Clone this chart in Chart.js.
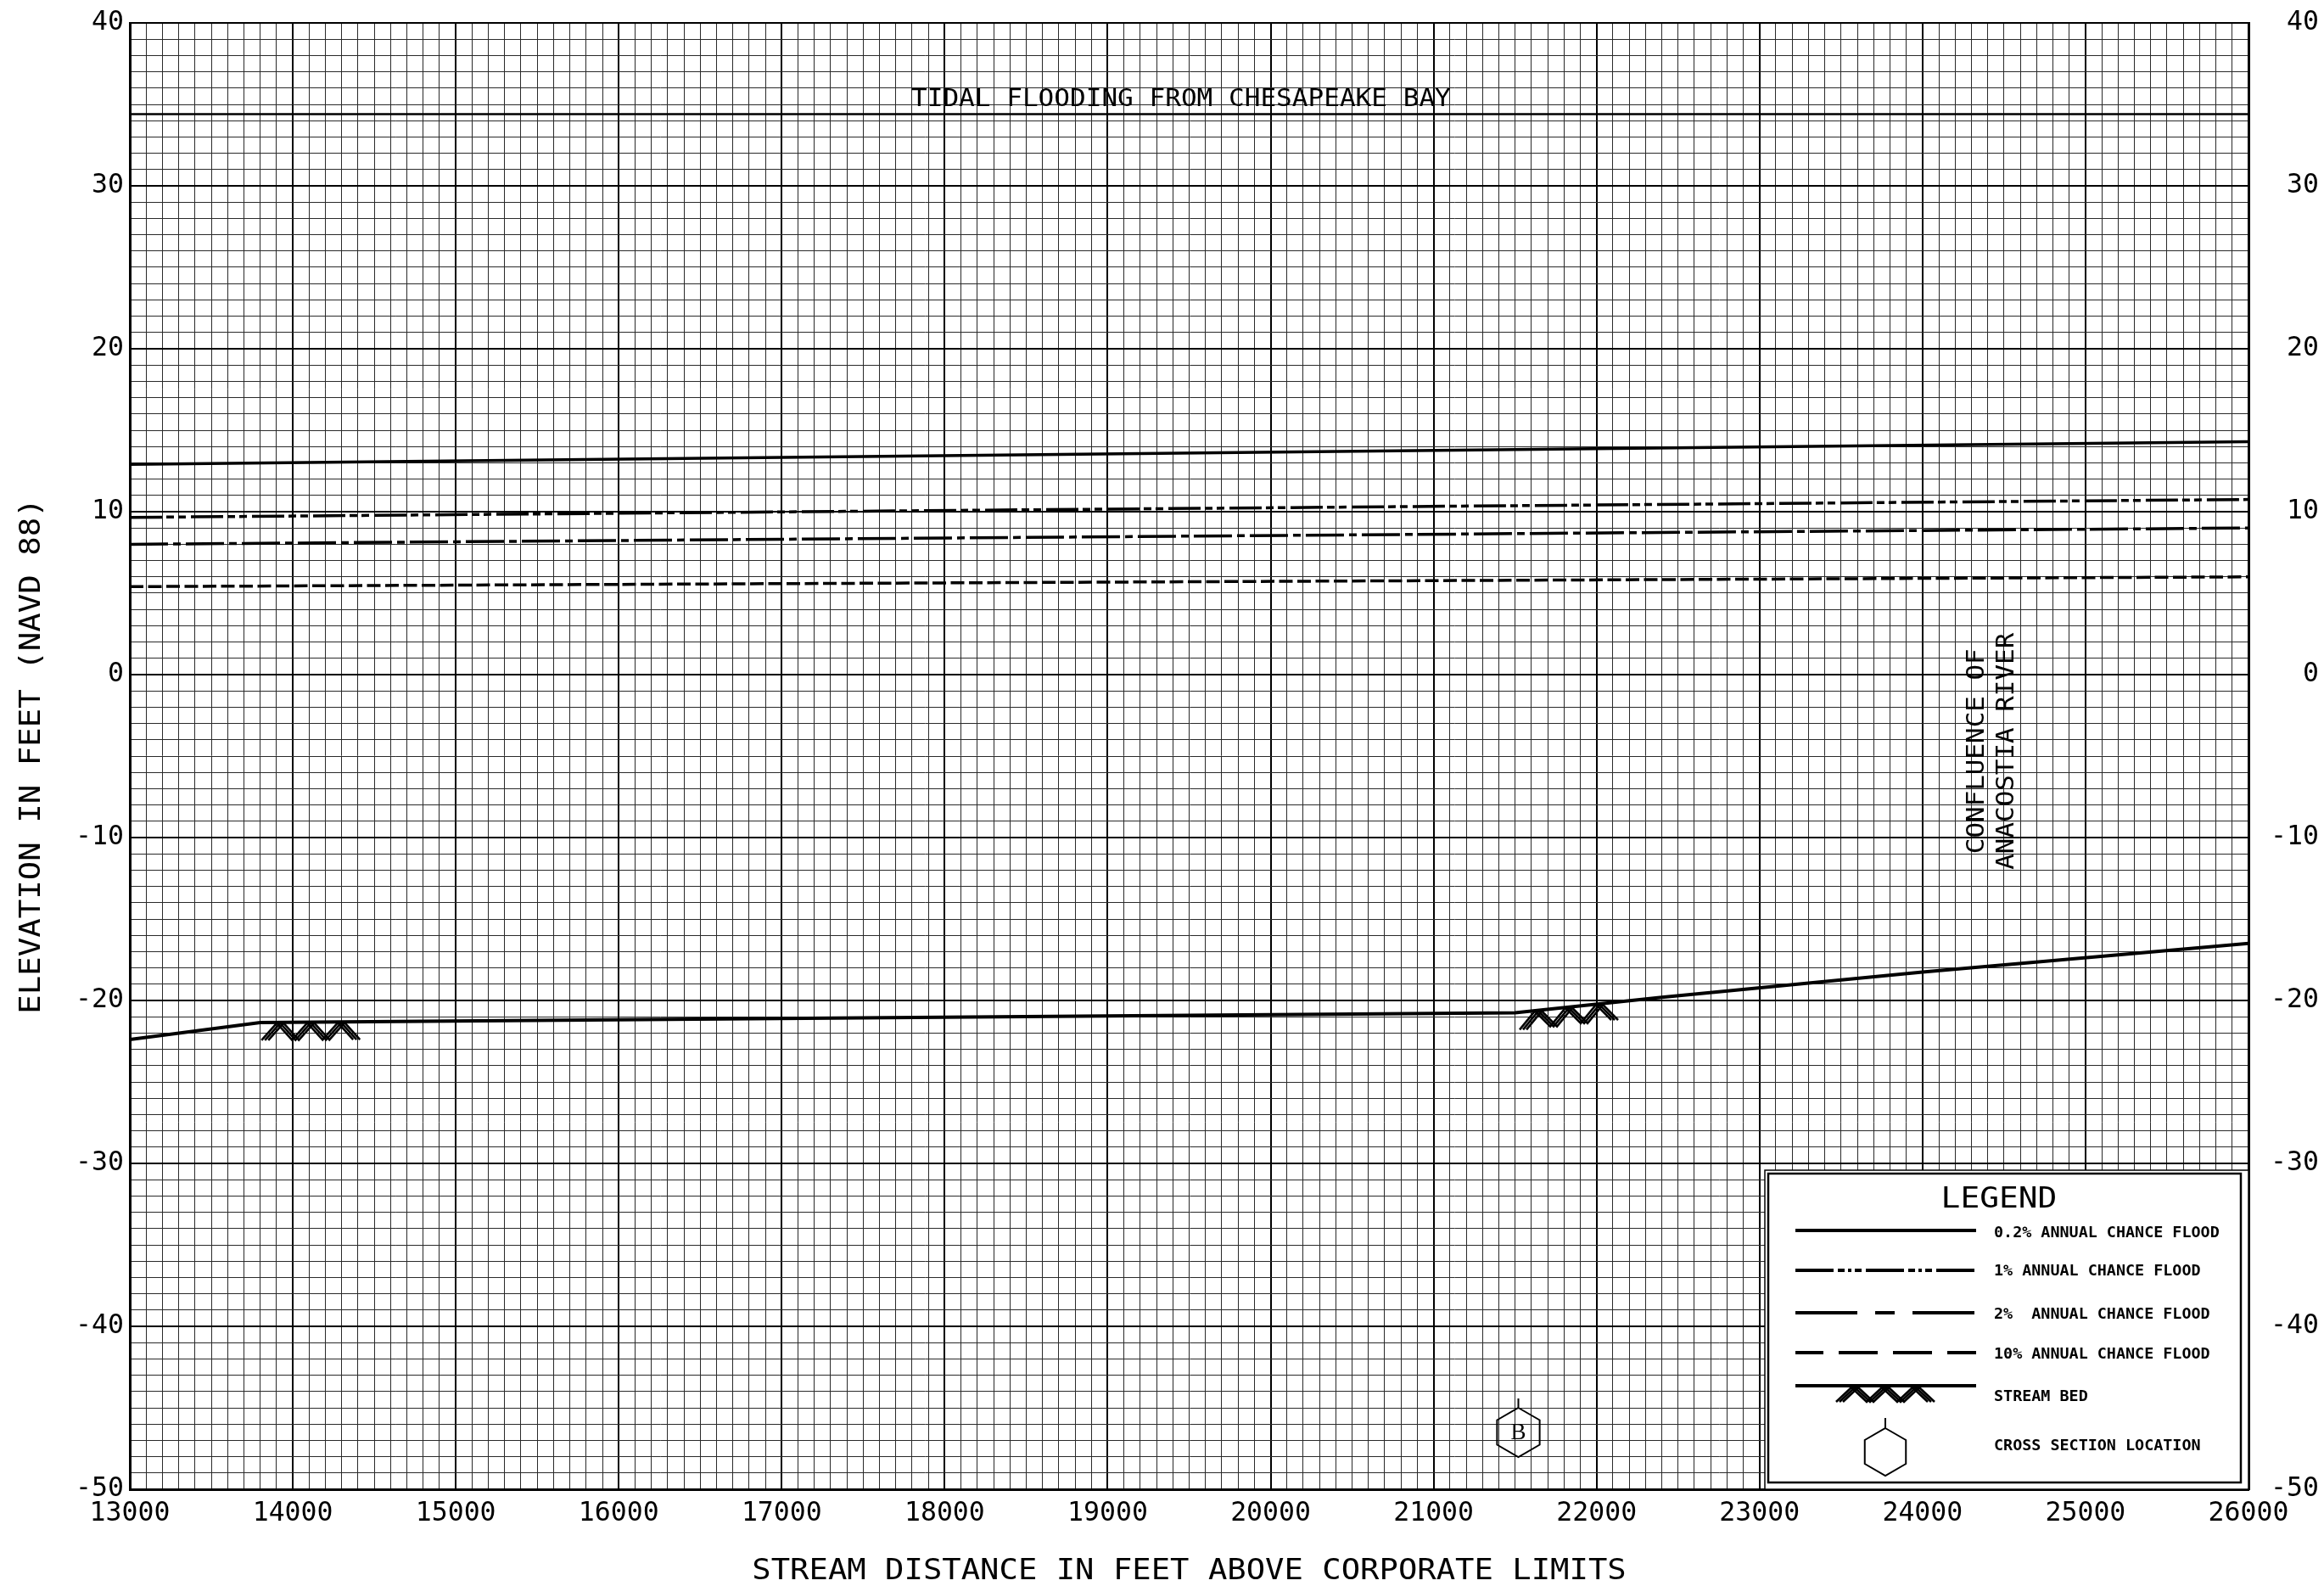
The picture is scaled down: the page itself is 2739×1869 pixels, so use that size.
<!DOCTYPE html>
<html>
  <head>
    <title>Flood Profile</title>
    <script src="https://cdn.jsdelivr.net/npm/chart.js"></script>
    <style>
      body {
        margin: 0;
        padding: 0;
        background-color: #fff;
        overflow: hidden;
      }
    </style>
  </head>
  <body>
    <canvas id="profile" width="2739" height="1869"></canvas>

    <script>
      // Water surface profiles (stream distance in feet, elevation in feet NAVD 88)
      const stations = [13000, 26000];
      const flood02 = [12.9, 14.3];
      const flood1 = [9.65, 10.75];
      const flood2 = [8.0, 9.0];
      const flood10 = [5.4, 6.0];

      // Tidal flood level from the bay
      const tidalStations = [13000, 26000];
      const tidalElev = [34.4, 34.4];

      // Stream bed
      const bedStations = [13000, 13800, 21500, 22400, 24000, 26000];
      const bedElev = [-22.4, -21.35, -20.75, -19.8, -18.25, -16.5];
      const bedMarkStations = [14110, 21830];

      // Cross sections
      const sectionLabels = ['B'];
      const sectionStations = [21520];

      // Notes and titles
      const tidalNote = 'TIDAL FLOODING FROM CHESAPEAKE BAY';
      const tidalNoteStation = 19450;
      const confluenceLines = ['CONFLUENCE OF', 'ANACOSTIA RIVER'];
      const confluenceStation = 24410;
      const confluenceElev = -4.7;
      const xTitle = 'STREAM DISTANCE IN FEET ABOVE CORPORATE LIMITS';
      const yTitle = 'ELEVATION IN FEET (NAVD 88)';
      const legendLabels = [
        '0.2% ANNUAL CHANCE FLOOD',
        '1% ANNUAL CHANCE FLOOD',
        '2%  ANNUAL CHANCE FLOOD',
        '10% ANNUAL CHANCE FLOOD',
        'STREAM BED',
        'CROSS SECTION LOCATION'
      ];

      const pts = (xs, ys) => xs.map((v, i) => ({ x: v, y: ys[i] }));
      const tickFont = { family: '"DejaVu Sans Mono", monospace', size: 31.5 };

      // draws text in a stretched mono font, centred on (cx, cy)
      function cadText(ctx, str, cx, cy, cap, advance, angle) {
        const size = cap / 0.729;
        ctx.save();
        ctx.font = size + 'px "DejaVu Sans Mono"';
        const natural = ctx.measureText(str).width / str.length;
        ctx.translate(cx, cy);
        if (angle) ctx.rotate(angle);
        ctx.scale(advance / natural, 1);
        ctx.textAlign = 'center';
        ctx.textBaseline = 'alphabetic';
        ctx.fillText(str, 0, cap / 2);
        ctx.restore();
      }

      function pathY(points, px) {
        for (let i = 0; i < points.length - 1; i++) {
          const a = points[i], b = points[i + 1];
          if (px >= a.x && px <= b.x) return a.y + (b.y - a.y) * (px - a.x) / (b.x - a.x);
        }
        return points[points.length - 1].y;
      }

      // zigzag hatching hung under the bed line
      function bedHatch(ctx, x0, x1, topAt, depth) {
        const n = 6, step = (x1 - x0) / n;
        ctx.lineWidth = 2.6;
        [-4, 0, 4].forEach(off => {
          ctx.beginPath();
          for (let i = 0; i <= n; i++) {
            const px = x0 + i * step;
            const py = topAt(px) + (i % 2 === 0 ? depth : 0);
            if (i === 0) ctx.moveTo(px + off, py);
            else ctx.lineTo(px + off, py);
          }
          ctx.stroke();
        });
      }

      function hexMarker(ctx, cx, cy, r, tick) {
        ctx.lineWidth = 2;
        ctx.beginPath();
        for (let i = 0; i < 6; i++) {
          const a = -Math.PI / 2 + i * Math.PI / 3;
          const px = cx + r * Math.cos(a), py = cy + r * Math.sin(a);
          if (i === 0) ctx.moveTo(px, py);
          else ctx.lineTo(px, py);
        }
        ctx.closePath();
        ctx.moveTo(cx, cy - r);
        ctx.lineTo(cx, cy - r - tick);
        ctx.stroke();
      }

      function legendLine(ctx, x0, x1, yy, dash, offset) {
        ctx.save();
        ctx.lineWidth = 4;
        ctx.setLineDash(dash);
        ctx.lineDashOffset = offset || 0;
        ctx.beginPath();
        ctx.moveTo(x0, yy);
        ctx.lineTo(x1, yy);
        ctx.stroke();
        ctx.restore();
      }

      function drawLegend(ctx, area) {
        const L = area.right - 570, T = area.bottom - 376;
        ctx.fillStyle = '#fff';
        ctx.fillRect(L, T, area.right - L, area.bottom - T);
        ctx.fillStyle = '#000';
        ctx.lineWidth = 1.5;
        ctx.strokeRect(L, T, area.right - L, area.bottom - T);
        ctx.lineWidth = 2.5;
        ctx.strokeRect(L + 4, T + 4, 557, 364);

        cadText(ctx, 'LEGEND', L + 276, T + 32, 24, 22.8, 0);

        const x0 = L + 36, x1 = L + 249;
        legendLine(ctx, x0, x1, T + 71, []);
        legendLine(ctx, x0, x1, T + 118, [45, 5, 8, 4, 4, 4, 8, 5]);
        legendLine(ctx, x0, x1, T + 168, [73, 21, 23, 21]);
        legendLine(ctx, x0, x1, T + 215, [46, 18], 13);
        legendLine(ctx, x0, x1, T + 254, []);
        bedHatch(ctx, L + 88, L + 196, () => T + 256, 17);
        hexMarker(ctx, L + 142, T + 332, 28, 12);

        ctx.font = 'bold 18.4px "DejaVu Sans Mono"';
        ctx.textAlign = 'left';
        ctx.textBaseline = 'alphabetic';
        const rows = [72, 117, 168, 215, 265, 323];
        legendLabels.forEach((t, i) => ctx.fillText(t, L + 270, T + rows[i] + 6.7));
      }

      const profileArt = {
        id: 'profileArt',
        afterDraw(chart) {
          const { ctx, chartArea: area, scales } = chart;
          const x = scales.x, y = scales.y;
          ctx.save();
          ctx.strokeStyle = '#000';
          ctx.fillStyle = '#000';

          // stream bed symbols
          const bedIndex = chart.data.datasets.findIndex(d => d.label === 'Stream Bed');
          const bedPts = chart.getDatasetMeta(bedIndex).data;
          bedMarkStations.forEach(s => {
            const cx = x.getPixelForValue(s);
            bedHatch(ctx, cx - 54, cx + 54, px => pathY(bedPts, px) + 1, 20);
          });

          // cross section markers
          sectionStations.forEach((s, i) => {
            const cx = x.getPixelForValue(s), cy = area.bottom - 67;
            hexMarker(ctx, cx, cy, 29, 11);
            ctx.font = '27px "Liberation Serif"';
            ctx.textAlign = 'center';
            ctx.textBaseline = 'middle';
            ctx.fillText(sectionLabels[i], cx, cy + 1);
          });

          // notes
          const tidalY = y.getPixelForValue(tidalElev[0]);
          cadText(ctx, tidalNote, x.getPixelForValue(tidalNoteStation), tidalY - 19.5, 20.5, 18.7, 0);
          const cfx = x.getPixelForValue(confluenceStation), cfy = y.getPixelForValue(confluenceElev);
          confluenceLines.forEach((t, i) => cadText(ctx, t, cfx + (i - 0.5) * 35, cfy, 21, 18.6, -Math.PI / 2));

          // axis titles
          cadText(ctx, xTitle, (area.left + area.right) / 2, area.bottom + 94, 24, 22.4, 0);
          cadText(ctx, yTitle, 35, (area.top + area.bottom) / 2, 24, 22.5, -Math.PI / 2);

          drawLegend(ctx, area);
          ctx.restore();
        }
      };

      // fixed axis sizes so the plot frame sits where it should
      const fixWidth = w => s => { s.width = w; s.paddingTop = 0; s.paddingBottom = 0; };
      const majorEvery = n => c => (c.tick && c.tick.value % n === 0);

      const lineStyle = { borderColor: '#000', pointRadius: 0, fill: false, tension: 0 };

      const ctx = document.getElementById('profile').getContext('2d');
      const profileChart = new Chart(ctx, {
        type: 'line',
        data: {
          datasets: [
            { ...lineStyle, label: 'Tidal', data: pts(tidalStations, tidalElev), borderWidth: 2.5 },
            { ...lineStyle, label: '0.2% Annual Chance Flood', data: pts(stations, flood02), borderWidth: 3.5 },
            { ...lineStyle, label: '1% Annual Chance Flood', data: pts(stations, flood1), borderWidth: 3.5, borderDash: [38, 5, 9, 5, 9, 6] },
            { ...lineStyle, label: '2% Annual Chance Flood', data: pts(stations, flood2), borderWidth: 3.5, borderDash: [45, 6, 9, 6] },
            { ...lineStyle, label: '10% Annual Chance Flood', data: pts(stations, flood10), borderWidth: 3.5, borderDash: [16, 5.5] },
            { ...lineStyle, label: 'Stream Bed', data: pts(bedStations, bedElev), borderWidth: 4 }
          ]
        },
        options: {
          responsive: false,
          animation: false,
          layout: { padding: { top: 27, left: 0, right: 6, bottom: 0 } },
          plugins: {
            legend: { display: false },
            tooltip: { enabled: false }
          },
          scales: {
            x: {
              type: 'linear',
              min: 13000,
              max: 26000,
              afterFit: s => { s.height = 114; s.paddingLeft = 0; s.paddingRight = 0; },
              border: { color: '#000', width: 3 },
              grid: {
                drawTicks: false,
                color: c => majorEvery(1000)(c) ? '#000' : '#2a2a2a',
                lineWidth: c => majorEvery(1000)(c) ? 2 : 1
              },
              ticks: {
                stepSize: 100,
                autoSkip: false,
                maxRotation: 0,
                minRotation: 0,
                padding: 10,
                color: '#000',
                font: tickFont,
                callback: v => (v % 1000 === 0 ? String(v) : '')
              }
            },
            y: {
              type: 'linear',
              position: 'left',
              min: -50,
              max: 40,
              afterFit: fixWidth(153),
              border: { color: '#000', width: 3 },
              grid: {
                drawTicks: false,
                color: c => majorEvery(10)(c) ? '#000' : '#2a2a2a',
                lineWidth: c => majorEvery(10)(c) ? 2 : 1
              },
              ticks: {
                stepSize: 1,
                autoSkip: false,
                padding: 7,
                color: '#000',
                font: tickFont,
                callback: v => (v % 10 === 0 ? String(v) : '')
              }
            },
            y2: {
              type: 'linear',
              position: 'right',
              min: -50,
              max: 40,
              afterFit: fixWidth(83),
              border: { color: '#000', width: 3 },
              grid: { display: false, drawTicks: false },
              ticks: {
                stepSize: 10,
                autoSkip: false,
                padding: 11,
                crossAlign: 'far',
                color: '#000',
                font: tickFont,
                callback: v => String(v)
              }
            }
          }
        },
        plugins: [profileArt]
      });
    </script>
  </body>
</html>
